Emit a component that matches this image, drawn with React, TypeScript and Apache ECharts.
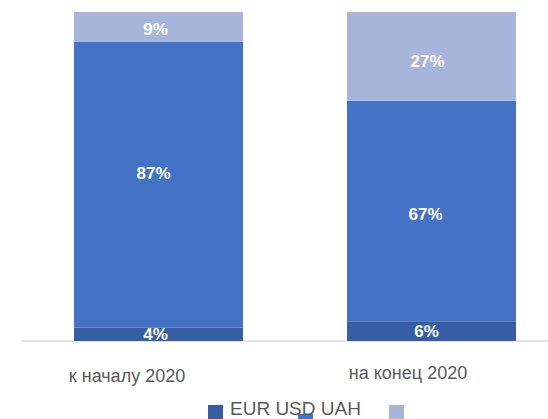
import React, { useEffect, useRef } from "react";
import * as echarts from "echarts";

const categories = ["к началу 2020", "на конец 2020"];
const seriesNames = ["EUR", "USD", "UAH"];
const eurValues = [4, 6];
const usdValues = [87, 67];
const uahValues = [9, 27];

const colors = ["#375EA4", "#4472C4", "#A8B5DA"];
const FONT = "Arial, 'Liberation Sans', sans-serif";

export default function App() {
  const ref = useRef<HTMLDivElement>(null);
  useEffect(() => {
    if (!ref.current) return;
    const chart = echarts.init(ref.current, undefined, { renderer: "svg" });
    const valueSets = [eurValues, usdValues, uahValues];
    const labelOffsets = [
      [[-3, 0], [-5, 0]],
      [[-5, -11], [-6, 3]],
      [[-3, 3], [-4, 5]],
    ];
    const series = seriesNames.map((name, si) => ({
      name,
      type: "bar",
      stack: "total",
      barWidth: 169,
      itemStyle: { color: colors[si] },
      label: {
        show: true,
        position: "inside",
        color: "#ffffff",
        fontWeight: "bold",
        fontSize: 17,
        fontFamily: FONT,
        formatter: "{c}%",
      },
      data: valueSets[si].map((v, i) => ({
        value: v,
        label: { offset: labelOffsets[si][i] },
      })),
    }));
    chart.setOption({
      animation: false,
      grid: {
        left: 22,
        width: 546,
        top: 12,
        bottom: 78,
        containLabel: false,
        outerBoundsMode: "none",
      },
      xAxis: {
        type: "category",
        data: categories,
        axisLine: { show: true, lineStyle: { color: "#D9D9D9", width: 1.5 } },
        axisTick: { show: false },
        axisLabel: {
          margin: 22,
          formatter: (value: string, idx: number) =>
            idx === 0 ? `{a|${value}}` : `{b|${value}}`,
          rich: {
            a: {
              fontSize: 18,
              lineHeight: 20,
              color: "#595959",
              fontFamily: FONT,
              padding: [5, 63, 0, 0],
            },
            b: {
              fontSize: 18,
              lineHeight: 20,
              color: "#595959",
              fontFamily: FONT,
              padding: [0, 47, 0, 0],
            },
          },
        },
      },
      yAxis: { type: "value", min: 0, max: 100, show: false },
      series,
      graphic: [
        { type: "rect", shape: { x: 208, y: 405, width: 15, height: 15 }, style: { fill: colors[0] } },
        { type: "rect", shape: { x: 298, y: 414, width: 15, height: 15 }, style: { fill: colors[1] } },
        { type: "rect", shape: { x: 389, y: 405, width: 15, height: 15 }, style: { fill: colors[2] } },
        {
          type: "text",
          x: 230,
          y: 408,
          style: {
            text: seriesNames.join(" "),
            fill: "#595959",
            fontSize: 19,
            fontFamily: FONT,
            verticalAlign: "middle",
            align: "left",
          },
        },
      ],
    });
    return () => chart.dispose();
  }, []);
  return <div ref={ref} style={{ width: 548, height: 419, position: "absolute", left: 0, top: 0 }} />;
}
